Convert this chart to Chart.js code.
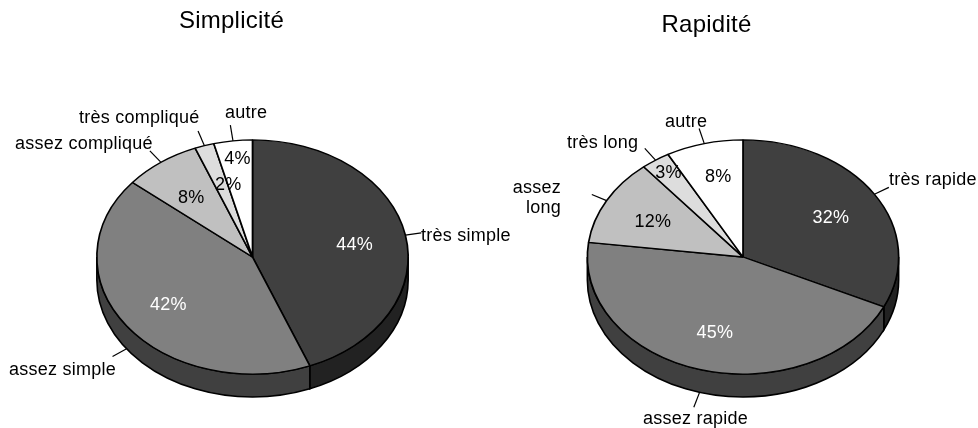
<!DOCTYPE html>
<html>
<head>
<meta charset="utf-8">
<title>Simplicité et rapidité</title>
<script src="https://cdn.jsdelivr.net/npm/chart.js@4"></script>
<style>
  html, body { margin: 0; background: #fff; overflow: hidden; }
  body { position: relative; width: 978px; height: 428px; }
  canvas { position: absolute; top: 0; }
  #chartSimple { left: 0; }
  #chartRapide { left: 505px; }
</style>
</head>
<body>
<canvas id="chartSimple" width="520" height="428"></canvas>
<canvas id="chartRapide" width="473" height="428"></canvas>
<script>
// data
const simpleLabels = ["très simple", "assez simple", "assez compliqué", "très compliqué", "autre"];
const simpleValues = [44, 42, 8, 2, 4];
const rapideLabels = ["très rapide", "assez rapide", "assez long", "très long", "autre"];
const rapideValues = [32, 45, 12, 3, 8];

// styles
const topColors = ["#404040", "#808080", "#c0c0c0", "#dddddd", "#ffffff"];
const wallColors = ["#222222", "#404040", "#808080", "#909090", "#b0b0b0"];
const pctColors = ["#ffffff", "#ffffff", "#000000", "#000000", "#000000"];
const SQUASH = 0.752;
const DEPTH = 23;
const FONT = "Liberation Sans, Arial, sans-serif";

// pie seen at an angle: walls first, then the library's arcs squashed around the centre
const tiltPlugin = {
  id: "tilt",
  afterLayout(chart, args, opts) {
    // titles sit left of the pie centre in the original
    chart.titleBlock.left += opts.titleShift;
    chart.titleBlock.right += opts.titleShift;
  },
  beforeDatasetsDraw(chart) {
    const ctx = chart.ctx;
    chart.getDatasetMeta(0).data.forEach((arc, i) => {
      const p = arc.getProps(["x", "y", "startAngle", "endAngle", "outerRadius"]);
      let a0 = p.startAngle;
      let a1 = p.endAngle;
      if (a0 > Math.PI) { a0 -= 2 * Math.PI; a1 -= 2 * Math.PI; }
      a0 = Math.max(a0, 0);
      a1 = Math.min(a1, Math.PI);
      if (a1 <= a0) return;
      const ry = p.outerRadius * SQUASH;
      ctx.save();
      ctx.beginPath();
      ctx.ellipse(p.x, p.y, p.outerRadius, ry, 0, a0, a1);
      ctx.ellipse(p.x, p.y + DEPTH, p.outerRadius, ry, 0, a1, a0, true);
      ctx.closePath();
      ctx.fillStyle = wallColors[i];
      ctx.fill();
      ctx.lineWidth = 1.6;
      ctx.strokeStyle = "#000";
      ctx.stroke();
      ctx.restore();
    });
    const first = chart.getDatasetMeta(0).data[0];
    ctx.save();
    ctx.translate(first.x, first.y);
    ctx.scale(1, SQUASH);
    ctx.translate(-first.x, -first.y);
  },
  afterDatasetsDraw(chart) {
    chart.ctx.restore();
  },
};

// leader lines, outside labels and percentages
const labelPlugin = {
  id: "pieLabels",
  beforeDraw(chart) {
    chart.ctx.letterSpacing = "0.25px";
  },
  afterDraw(chart, args, opts) {
    const ctx = chart.ctx;
    const values = chart.data.datasets[0].data;
    ctx.save();
    ctx.font = "18px " + FONT;
    chart.getDatasetMeta(0).data.forEach((arc, i) => {
      const p = arc.getProps(["x", "y", "startAngle", "endAngle", "outerRadius"]);
      const mid = (p.startAngle + p.endAngle) / 2;
      const dx = Math.cos(mid);
      const dy = Math.sin(mid) * SQUASH;

      // percentage
      const off = opts.pctOffsets[i];
      ctx.fillStyle = pctColors[i];
      ctx.textAlign = "center";
      ctx.textBaseline = "middle";
      ctx.fillText(values[i] + "%", p.x + dx * 104 + off[0], p.y + dy * 104 + off[1]);

      // leader, from the rim (bottom edge of the wall on the front half)
      const sx = p.x + dx * p.outerRadius;
      const sy = p.y + dy * p.outerRadius + (dy > 0 ? DEPTH : 0);
      const len = Math.hypot(dx * p.outerRadius, dy * p.outerRadius);
      ctx.beginPath();
      ctx.moveTo(sx, sy);
      ctx.lineTo(sx + dx * p.outerRadius / len * 16, sy + dy * p.outerRadius / len * 16);
      ctx.lineWidth = 1.2;
      ctx.strokeStyle = "#000";
      ctx.stroke();

      // name
      const pos = opts.labelPos[i];
      ctx.fillStyle = "#000";
      ctx.textAlign = pos.align;
      ctx.textBaseline = "alphabetic";
      opts.names[i].forEach((line, n) => {
        ctx.fillText(line, pos.x - opts.left, pos.y + n * 20);
      });
    });
    ctx.restore();
  },
};

function makePie(id, left, titleText, titleTop, titleShift, labels, values, names, labelPos, pctOffsets, padLeft, padRight) {
  return new Chart(document.getElementById(id), {
    type: "pie",
    data: {
      labels: labels,
      datasets: [{
        data: values,
        backgroundColor: topColors,
        borderColor: "#000",
        borderWidth: 1.7,
        clip: false,
      }],
    },
    options: {
      responsive: false,
      animation: false,
      devicePixelRatio: 1,
      layout: { padding: { left: padLeft, right: padRight, top: 0, bottom: 14.5 } },
      plugins: {
        legend: { display: false },
        tooltip: { enabled: false },
        title: {
          display: true,
          text: titleText,
          color: "#000",
          font: { family: FONT, size: 24, weight: "normal" },
          padding: { top: titleTop, bottom: 100.5 - titleTop - 28.8 },
        },
        tilt: { titleShift },
        pieLabels: { left, names, labelPos, pctOffsets },
      },
    },
    plugins: [tiltPlugin, labelPlugin],
  });
}

// Simplicité
makePie("chartSimple", 0, "Simplicité", 7, -21, simpleLabels, simpleValues,
  [["très simple"], ["assez simple"], ["assez compliqué"], ["très compliqué"], ["autre"]],
  [
    { x: 421, y: 241, align: "left" },
    { x: 9, y: 375, align: "left" },
    { x: 15, y: 149, align: "left" },
    { x: 79, y: 123, align: "left" },
    { x: 225, y: 118, align: "left" },
  ],
  [[0, 3], [0, 2], [0, 4], [8, 2], [-2, -20]],
  96, 111);

// Rapidité
makePie("chartRapide", 505, "Rapidité", 10.5, -36.5, rapideLabels, rapideValues,
  [["très rapide"], ["assez rapide"], ["assez", "long"], ["très long"], ["autre"]],
  [
    { x: 889, y: 185, align: "left" },
    { x: 643, y: 424, align: "left" },
    { x: 561, y: 193, align: "right" },
    { x: 567, y: 148, align: "left" },
    { x: 665, y: 127, align: "left" },
  ],
  [[0, 3], [1, 1], [1, 3], [-16, -19], [1, -4]],
  81.5, 78.5);
</script>
</body>
</html>
